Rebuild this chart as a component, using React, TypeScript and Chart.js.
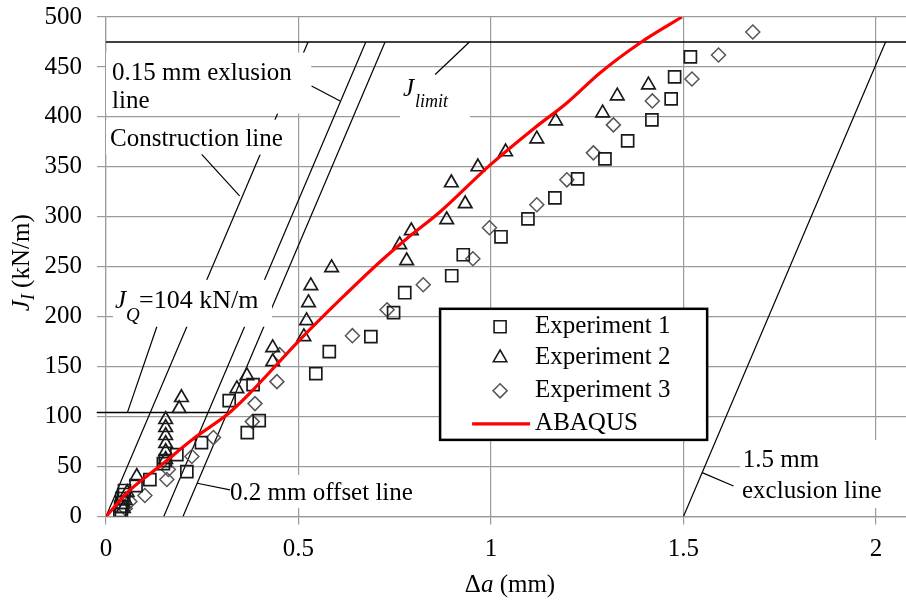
import React, { useEffect, useRef } from "react";
import { Chart, registerables } from "chart.js";

Chart.register(...registerables);

const FONT = '"Liberation Serif", "Times New Roman", Times, serif';
const GRID = "#9a9a9a";

// ---- axes ----
const xTickValues = [0, 0.5, 1, 1.5, 2];
const xMin = 0;
const xMax = 2.078;
const yMin = 0;
const yMax = 500;
const yStep = 50;

// ---- Experiment 1 (squares) ----
const exp1Da = [0.036, 0.040, 0.038, 0.044, 0.041, 0.046, 0.048, 0.078, 0.114, 0.149, 0.154, 0.184, 0.210, 0.248, 0.320, 0.367, 0.398, 0.382, 0.545, 0.580, 0.688, 0.747, 0.776, 0.898, 0.928, 1.026, 1.096, 1.166, 1.225, 1.296, 1.355, 1.418, 1.468, 1.477, 1.518];
const exp1J = [2, 6, 10, 14, 18, 22, 26, 31, 37, 53, 56, 62, 45, 74, 116, 84, 96, 132, 143, 165, 180, 204, 224, 241, 262, 280, 298, 319, 338, 358, 376, 397, 418, 440, 460];

// ---- Experiment 2 (triangles) ----
const exp2Da = [0.045, 0.050, 0.055, 0.080, 0.155, 0.155, 0.155, 0.155, 0.155, 0.155, 0.190, 0.196, 0.340, 0.366, 0.433, 0.433, 0.514, 0.521, 0.526, 0.532, 0.586, 0.781, 0.763, 0.793, 0.885, 0.933, 0.897, 0.966, 1.038, 1.119, 1.168, 1.290, 1.328, 1.409];
const exp2J = [8, 16, 24, 40, 57, 65, 73, 81, 89, 97, 108, 119, 128, 141, 155, 169, 180, 196, 214, 231, 249, 256, 272, 286, 297, 313, 334, 350, 365, 378, 396, 404, 421, 432];

// ---- Experiment 3 (diamonds) ----
const exp3Da = [0.050, 0.062, 0.101, 0.158, 0.162, 0.223, 0.279, 0.380, 0.387, 0.444, 0.451, 0.640, 0.730, 0.824, 0.953, 0.996, 1.119, 1.197, 1.266, 1.318, 1.419, 1.522, 1.591, 1.680];
const exp3J = [8, 15, 21, 37, 47, 60, 79, 95, 113, 135, 162, 181, 207, 232, 258, 289, 312, 337, 364, 392, 416, 438, 462, 485];

// ---- ABAQUS curve ----
const abaqusDa = [0, 0.058, 0.145, 0.231, 0.318, 0.370, 0.504, 0.608, 0.712, 0.781, 0.868, 0.998, 1.110, 1.197, 1.283, 1.387, 1.496];
const abaqusJ = [0, 25, 52, 79, 103, 122, 177, 217, 255, 278, 305, 352, 388, 414, 444, 474, 500];

// ---- construction / exclusion lines ----
const bluntingSlope = 905; // kN/m per mm
const lineOffsets = [0, 0.15, 0.2, 1.5]; // construction, 0.15 excl, 0.2 offset, 1.5 excl
const jLimit = 475;
const jQ = 104;
const jQLineStart = -0.024;

const toPoints = (xs: number[], ys: number[]) => xs.map((x, i) => ({ x, y: ys[i] }));

// ---- annotation layout (data coordinates) ----
const labelBoxes = [
  [0, 0.533, 464.4, 403.3],
  [0, 0.478, 397.2, 362.2],
  [0.7638, 0.9457, 442.4, 395.3],
  [0.0182, 0.4313, 236.9, 189.9],
  [0.317, 0.816, 41.6, 8.5],
  [1.647, 2.1, 76.7, 8.5],
];
const leaders = [
  [[0.534, 431], [0.608, 416]],
  [[0.2486, 362.5], [0.347, 321]],
  [[0.855, 442.4], [0.944, 475]],
  [[0.0555, 104], [0.132, 190]],
  [[0.237, 33.3], [0.322, 26.6]],
  [[1.5485, 43.9], [1.63, 30.6]],
];
const labelTexts = [
  { text: "0.15 mm exlusion", x: 0.0156, y: 437.4, size: 25 },
  { text: "line", x: 0.0156, y: 409, size: 25 },
  { text: "Construction line", x: 0.0104, y: 370.5, size: 25 },
  { text: "J", x: 0.7716, y: 421.3, size: 25, italic: true },
  { text: "limit", x: 0.8028, y: 410.3, size: 18, italic: true },
  { text: "J", x: 0.0234, y: 208.9, size: 25, italic: true },
  { text: "Q", x: 0.052, y: 195.9, size: 19, italic: true },
  { text: `=${jQ} kN/m`, x: 0.0857, y: 208.9, size: 26 },
  { text: "0.2 mm offset line", x: 0.3222, y: 16.5, size: 25 },
  { text: "1.5 mm", x: 1.654, y: 49.9, size: 25 },
  { text: "exclusion line", x: 1.652, y: 18.2, size: 25 },
];

const legendItems = [
  { label: "Experiment 1", style: "rect" },
  { label: "Experiment 2", style: "triangle" },
  { label: "Experiment 3", style: "rectRot" },
  { label: "ABAQUS", style: "line" },
];

const markerStyle: Record<string, { r: number; color: string }> = {
  rect: { r: 8.5, color: "#1a1a1a" },
  triangle: { r: 7.8, color: "#1a1a1a" },
  rectRot: { r: 7, color: "#555555" },
};

function drawMarker(ctx: CanvasRenderingContext2D, style: string, cx: number, cy: number, r: number) {
  ctx.beginPath();
  if (style === "rect") {
    const s = Math.SQRT1_2 * r;
    ctx.rect(cx - s, cy - s, 2 * s, 2 * s);
  } else if (style === "triangle") {
    ctx.moveTo(cx, cy - r);
    ctx.lineTo(cx + 0.866 * r, cy + 0.5 * r);
    ctx.lineTo(cx - 0.866 * r, cy + 0.5 * r);
    ctx.closePath();
  } else {
    ctx.moveTo(cx - r, cy);
    ctx.lineTo(cx, cy - r);
    ctx.lineTo(cx + r, cy);
    ctx.lineTo(cx, cy + r);
    ctx.closePath();
  }
  ctx.stroke();
}

const overlayPlugin = {
  id: "overlay",
  afterDatasetsDraw(chart: any) {
    const { ctx, scales } = chart;
    const px = (v: number) => scales.x.getPixelForValue(v);
    const py = (v: number) => scales.y.getPixelForValue(v);
    ctx.save();
    // white label backgrounds
    ctx.fillStyle = "#ffffff";
    for (const b of labelBoxes) {
      const x0 = px(b[0]);
      const x1 = px(b[1]);
      const y0 = py(b[2]);
      const y1 = py(b[3]);
      ctx.fillRect(x0, y0, x1 - x0, y1 - y0);
    }
    // leader lines
    ctx.strokeStyle = "#000";
    ctx.lineWidth = 1.2;
    for (const l of leaders) {
      ctx.beginPath();
      ctx.moveTo(px(l[0][0]), py(l[0][1]));
      ctx.lineTo(px(l[1][0]), py(l[1][1]));
      ctx.stroke();
    }
    // label texts
    ctx.fillStyle = "#000";
    ctx.textBaseline = "alphabetic";
    ctx.textAlign = "left";
    for (const t of labelTexts) {
      ctx.font = `${t.italic ? "italic " : ""}${t.size}px ${FONT}`;
      ctx.fillText(t.text, px(t.x), py(t.y));
    }
    // legend
    const lx0 = px(0.8678);
    const lx1 = px(1.5615);
    const ly0 = py(207.9);
    const ly1 = py(76.7);
    ctx.fillStyle = "#fff";
    ctx.fillRect(lx0, ly0, lx1 - lx0, ly1 - ly0);
    ctx.strokeStyle = "#000";
    ctx.lineWidth = 2.5;
    ctx.strokeRect(lx0, ly0, lx1 - lx0, ly1 - ly0);
    const rowY = [ly0 + 18, ly0 + 49, ly0 + 82, ly0 + 115];
    const symX = lx0 + 60;
    legendItems.forEach((it, i) => {
      const cy = rowY[i];
      if (it.style === "line") {
        ctx.strokeStyle = "#ff0000";
        ctx.lineWidth = 3.2;
        ctx.beginPath();
        ctx.moveTo(lx0 + 32, cy);
        ctx.lineTo(lx0 + 90, cy);
        ctx.stroke();
      } else {
        const m = markerStyle[it.style];
        ctx.strokeStyle = m.color;
        ctx.lineWidth = 1.6;
        drawMarker(ctx, it.style, symX, cy, m.r);
      }
      ctx.fillStyle = "#000";
      ctx.font = `25px ${FONT}`;
      ctx.textBaseline = "middle";
      ctx.fillText(it.label, lx0 + 95, cy);
    });
    ctx.restore();
  },
  afterDraw(chart: any) {
    const { ctx, chartArea } = chart;
    ctx.save();
    ctx.fillStyle = "#000";
    ctx.textBaseline = "alphabetic";
    ctx.textAlign = "left";
    // y title: J_I (kN/m), rotated
    const big = `25px ${FONT}`;
    const bigI = `italic 25px ${FONT}`;
    const subI = `italic 18px ${FONT}`;
    ctx.font = bigI;
    const wJ = ctx.measureText("J").width;
    ctx.font = subI;
    const wSub = ctx.measureText("I").width;
    ctx.font = big;
    const wRest = ctx.measureText(" (kN/m)").width;
    const total = wJ + wSub + wRest;
    const cy = (chartArea.top + chartArea.bottom) / 2 - 4;
    ctx.translate(28.5, cy + total / 2);
    ctx.rotate(-Math.PI / 2);
    ctx.font = bigI;
    ctx.fillText("J", 0, 0);
    ctx.font = subI;
    ctx.fillText("I", wJ, 5);
    ctx.font = big;
    ctx.fillText(" (kN/m)", wJ + wSub, 0);
    ctx.setTransform(1, 0, 0, 1, 0, 0);
    // x title: Δa (mm)
    ctx.font = big;
    const wD = ctx.measureText("\u0394").width;
    ctx.font = bigI;
    const wA = ctx.measureText("a").width;
    ctx.font = big;
    const wM = ctx.measureText(" (mm)").width;
    const tw = wD + wA + wM;
    const sx = (chartArea.left + chartArea.right) / 2 + 4 - tw / 2;
    const by = 592;
    ctx.font = big;
    ctx.fillText("\u0394", sx, by);
    ctx.font = bigI;
    ctx.fillText("a", sx + wD, by);
    ctx.font = big;
    ctx.fillText(" (mm)", sx + wD + wA, by);
    ctx.restore();
  },
};

export default function App() {
  const ref = useRef<HTMLCanvasElement | null>(null);
  useEffect(() => {
    if (!ref.current) return;
    const lineDs = (data: any[], extra: any = {}) => ({
      data,
      showLine: true,
      borderColor: "#000",
      borderWidth: 1.2,
      pointRadius: 0,
      fill: false,
      ...extra,
    });
    const chart = new Chart(ref.current, {
      type: "scatter",
      data: {
        datasets: [
          {
            label: "ABAQUS",
            data: toPoints(abaqusDa, abaqusJ),
            showLine: true,
            borderColor: "#ff0000",
            borderWidth: 3.2,
            pointRadius: 0,
            cubicInterpolationMode: "monotone",
            fill: false,
          },
          {
            label: "Experiment 1",
            data: toPoints(exp1Da, exp1J),
            pointStyle: "rect",
            pointRadius: markerStyle.rect.r,
            borderColor: markerStyle.rect.color,
            borderWidth: 1.7,
            backgroundColor: "rgba(0,0,0,0)",
          },
          {
            label: "Experiment 2",
            data: toPoints(exp2Da, exp2J),
            pointStyle: "triangle",
            pointRadius: markerStyle.triangle.r,
            borderColor: markerStyle.triangle.color,
            borderWidth: 1.7,
            backgroundColor: "rgba(0,0,0,0)",
          },
          {
            label: "Experiment 3",
            data: toPoints(exp3Da, exp3J),
            pointStyle: "rectRot",
            pointRadius: markerStyle.rectRot.r,
            borderColor: markerStyle.rectRot.color,
            borderWidth: 1.5,
            backgroundColor: "rgba(0,0,0,0)",
          },
          ...lineOffsets.map((o) =>
            lineDs([
              { x: o, y: 0 },
              { x: o + jLimit / bluntingSlope, y: jLimit },
            ])
          ),
          lineDs(
            [
              { x: 0, y: jLimit },
              { x: xMax + 0.1, y: jLimit },
            ],
            { borderWidth: 1.5 }
          ),
          lineDs(
            [
              { x: jQLineStart, y: jQ },
              { x: lineOffsets[2] + jQ / bluntingSlope, y: jQ },
            ],
            { borderWidth: 1.5, clip: false }
          ),
        ],
      },
      options: {
        responsive: false,
        animation: false,
        events: [],
        layout: { autoPadding: false, padding: { top: 17, left: 0, right: 0, bottom: 0 } },
        plugins: { legend: { display: false }, tooltip: { enabled: false } },
        scales: {
          x: {
            type: "linear",
            min: xMin,
            max: xMax,
            afterBuildTicks: (s: any) => {
              s.ticks = xTickValues.map((v) => ({ value: v }));
            },
            afterFit: (s: any) => {
              s.height = 83.5;
              s.paddingLeft = 0;
              s.paddingRight = 0;
            },
            ticks: {
              font: { family: FONT, size: 25 },
              color: "#000",
              padding: 10,
              maxRotation: 0,
              autoSkip: false,
              callback: (v: any) => String(v),
            },
            grid: { color: GRID, lineWidth: 1.2, tickLength: 8, tickColor: GRID },
            border: { color: GRID, width: 1.2 },
          },
          y: {
            type: "linear",
            min: yMin,
            max: yMax,
            afterFit: (s: any) => {
              s.width = 106;
              s.paddingTop = 0;
              s.paddingBottom = 0;
            },
            ticks: {
              stepSize: yStep,
              font: { family: FONT, size: 25 },
              color: "#000",
              padding: 15,
            },
            grid: { color: GRID, lineWidth: 1.2, tickLength: 9, tickColor: GRID },
            border: { color: GRID, width: 1.2 },
          },
        },
      },
      plugins: [overlayPlugin],
    } as any);
    return () => chart.destroy();
  }, []);
  return (
    <div style={{ position: "absolute", left: 0, top: 0, width: 906, height: 600, background: "#fff" }}>
      <canvas ref={ref} width={906} height={600} style={{ width: 906, height: 600, display: "block" }} />
    </div>
  );
}
